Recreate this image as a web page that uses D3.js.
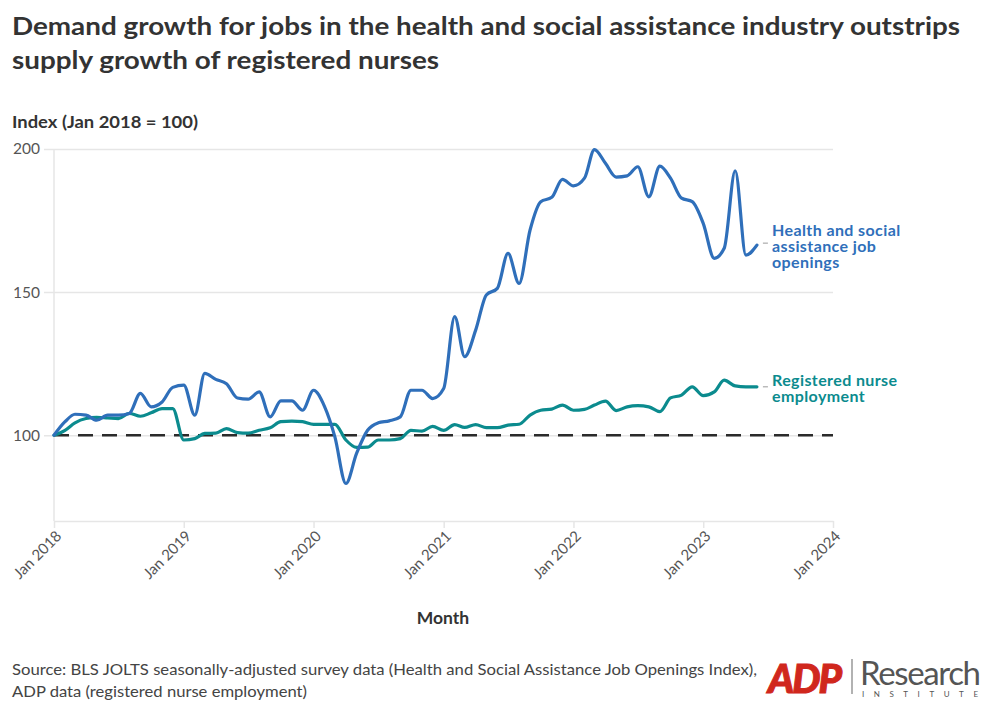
<!DOCTYPE html>
<html>
<head>
<meta charset="utf-8">
<script src="https://cdn.jsdelivr.net/npm/d3@7"></script>
<style>
  html, body { margin: 0; padding: 0; background: #fff; }
  svg { display: block; font-family: Lato, "Noto Sans", sans-serif; }
</style>
</head>
<body>
<svg id="chart" width="993" height="713"></svg>
<script>
// ---- Data (monthly, Jan 2018 .. Jun 2023) ----
const startMonth = "2018-01";
const jobOpenings = [
  100, 104.7, 107.3, 107, 105.2, 107, 107, 107.6, 114.6, 109.9, 111.6, 116.7,
  117.5, 107, 121.6, 119.5, 118, 113, 112.6, 115.1, 106.4, 112, 112, 108.7,
  115.7, 110, 99.4, 83.1, 93.6, 101.7, 104.3, 105, 106.4, 115.7, 115.7, 112.8,
  116.3, 141.4, 127.4, 136.7, 149, 151.3, 163.5, 153, 171.7, 181.6, 183.1, 189.4,
  187.1, 189.8, 199.8, 195, 190.2, 190.6, 193.8, 183.3, 194, 189.8, 182.8, 181.6,
  174, 161.8, 165.3, 192.4, 162.9, 166.4
];
const nurseEmployment = [
  100, 101.7, 104.3, 105.8, 106.2, 106, 105.8, 107.6, 106.6, 107.8, 109.3, 109.3,
  98.3, 98.8, 100.6, 100.7, 102.3, 100.9, 100.7, 101.7, 102.6, 104.7, 104.9, 104.7,
  103.8, 103.8, 103.8, 98.3, 95.7, 95.8, 98.3, 98.3, 98.8, 101.7, 101.4, 103.1,
  101.7, 103.7, 102.7, 103.7, 102.6, 102.6, 103.5, 103.8, 107, 108.7, 109.1, 110.5,
  108.7, 109, 110.5, 111.9, 108.6, 109.9, 110.3, 109.9, 108.2, 113, 114, 116.9,
  113.8, 115.1, 119.2, 117.2, 116.9, 116.9
];
const yTicks = [100, 150, 200];
const xTickYears = [2018, 2019, 2020, 2021, 2022, 2023, 2024];
const seriesLabelLines = [["Health and social", "assistance job", "openings"], ["Registered nurse", "employment"]];

const titleLines = [
  "Demand growth for jobs in the health and social assistance industry outstrips",
  "supply growth of registered nurses"
];
const yAxisTitle = "Index (Jan 2018 = 100)";
const xAxisTitle = "Month";
const sourceLines = [
  "Source: BLS JOLTS seasonally-adjusted survey data (Health and Social Assistance Job Openings Index),",
  "ADP data (registered nurse employment)"
];

// ---- Build ----
const parse = d3.utcParse("%Y-%m");
const t0 = parse(startMonth);
const dates = jobOpenings.map((_, i) => d3.utcMonth.offset(t0, i));
const blueData = dates.map((d, i) => ({ date: d, value: jobOpenings[i] }));
const tealData = dates.map((d, i) => ({ date: d, value: nurseEmployment[i] }));

const COLORS = { blue: "#2f6fba", teal: "#0b8b8e", text: "#333333", muted: "#555555", grid: "#e6e6e6" };

const svg = d3.select("#chart");
const x = d3.scaleUtc()
  .domain([new Date(Date.UTC(2018, 0, 1)), new Date(Date.UTC(2024, 0, 1))])
  .range([54, 833]);
const y = d3.scaleLinear().domain([70, 200]).range([521, 149]);

// Title
const titleWidths = [948, 427];
svg.append("g").selectAll("text").data(titleLines).join("text")
  .attr("x", 12).attr("y", (d, i) => 35 + i * 34)
  .attr("font-size", 25.5).attr("font-weight", 700).attr("fill", COLORS.text)
  .attr("textLength", (d, i) => titleWidths[i]).attr("lengthAdjust", "spacingAndGlyphs")
  .text(d => d);

svg.append("text").attr("x", 12).attr("y", 128)
  .attr("font-size", 17.5).attr("font-weight", 700).attr("fill", COLORS.text)
  .attr("textLength", 186).attr("lengthAdjust", "spacingAndGlyphs")
  .text(yAxisTitle);

// Gridlines + y labels
const yAxis = d3.axisLeft(y).tickValues(yTicks).tickSize(0).tickPadding(0);
const gy = svg.append("g").attr("transform", "translate(44,0)").call(yAxis);
gy.select(".domain").remove();
gy.selectAll(".tick text")
  .attr("x", -4).attr("font-size", 15.5).attr("fill", COLORS.muted)
  .attr("font-family", "Lato, sans-serif");
gy.selectAll(".tick line").remove();
gy.selectAll(".tick").append("line")
  .attr("x1", 0).attr("x2", 833 - 44).attr("stroke", COLORS.grid).attr("stroke-width", 1.5);

// vertical left axis line
svg.append("line").attr("x1", 54).attr("x2", 54).attr("y1", y(200)).attr("y2", y(70))
  .attr("stroke", COLORS.grid).attr("stroke-width", 1.5);

// x axis
const xAxis = d3.axisBottom(x)
  .tickValues(xTickYears.map(yr => new Date(Date.UTC(yr, 0, 1))))
  .tickFormat(d3.utcFormat("Jan %Y")).tickSize(7).tickSizeOuter(0);
const gx = svg.append("g").attr("transform", `translate(0,${y(70)})`).call(xAxis);
gx.select(".domain").attr("stroke", COLORS.grid).attr("stroke-width", 1.5);
gx.selectAll(".tick line").attr("stroke", COLORS.grid).attr("stroke-width", 1.5);
gx.selectAll(".tick text")
  .attr("font-size", 15).attr("fill", COLORS.muted).attr("font-family", "Lato, sans-serif")
  .attr("text-anchor", "end").attr("y", 0).attr("dy", 0)
  .attr("transform", "translate(8,16) rotate(-45)");

svg.append("text").attr("x", 443).attr("y", 624).attr("text-anchor", "middle")
  .attr("font-size", 17.5).attr("font-weight", 700).attr("fill", COLORS.text)
  .text(xAxisTitle);

// baseline dashed 100
svg.append("line").attr("x1", 54).attr("x2", 833).attr("y1", y(100)).attr("y2", y(100))
  .attr("stroke", "#2b2b2b").attr("stroke-width", 2.5).attr("stroke-dasharray", "15,9");

// lines
const line = d3.line().x(d => x(d.date)).y(d => y(d.value)).curve(d3.curveMonotoneX);
svg.append("path").datum(tealData).attr("d", line)
  .attr("fill", "none").attr("stroke", COLORS.teal).attr("stroke-width", 3.2)
  .attr("stroke-linejoin", "round").attr("stroke-linecap", "round");
svg.append("path").datum(blueData).attr("d", line)
  .attr("fill", "none").attr("stroke", COLORS.blue).attr("stroke-width", 3.2)
  .attr("stroke-linejoin", "round").attr("stroke-linecap", "round");

// series labels
const lastBlue = blueData[blueData.length - 1];
const lastTeal = tealData[tealData.length - 1];
const labels = [
  { lines: seriesLabelLines[0], color: COLORS.blue, yv: y(lastBlue.value) + 1, lead: y(lastBlue.value) - 2, x0: x(lastBlue.date) },
  { lines: seriesLabelLines[1], color: COLORS.teal, yv: y(lastTeal.value) + 2, lead: y(lastTeal.value), x0: x(lastTeal.date) }
];
labels.forEach(lb => {
  svg.append("line").attr("x1", lb.x0 + 6).attr("x2", lb.x0 + 11)
    .attr("y1", lb.lead).attr("y2", lb.lead).attr("stroke", "#aaa").attr("stroke-width", 1.2);
  const n = lb.lines.length;
  const lh = 16;
  const top = lb.yv - (n - 1) * lh / 2;
  svg.append("g").selectAll("text").data(lb.lines).join("text")
    .attr("x", 772).attr("y", (d, i) => top + i * lh).attr("dy", "0.35em")
    .attr("font-size", 16).attr("font-weight", 700).attr("fill", lb.color)
    .attr("letter-spacing", 0.4)
    .text(d => d);
});

// source
const sourceWidths = [745, 295];
svg.append("g").selectAll("text").data(sourceLines).join("text")
  .attr("x", 12).attr("y", (d, i) => 675 + i * 22)
  .attr("font-size", 16).attr("fill", "#444")
  .attr("textLength", (d, i) => sourceWidths[i]).attr("lengthAdjust", "spacingAndGlyphs")
  .text(d => d);

// logo
const logo = svg.append("g");
logo.append("text").attr("x", 768).attr("y", 693)
  .attr("font-size", 40).attr("font-weight", 900).attr("font-style", "italic")
  .attr("fill", "#d0271d").attr("stroke", "#d0271d").attr("stroke-width", 1)
  .attr("font-family", "Lato, sans-serif").attr("textLength", 74).text("ADP");
logo.append("line").attr("x1", 852).attr("x2", 852).attr("y1", 659).attr("y2", 694)
  .attr("stroke", "#999").attr("stroke-width", 1.5);
logo.append("text").attr("x", 860).attr("y", 685)
  .attr("font-size", 33).attr("fill", "#555").attr("font-family", "Lato, sans-serif")
  .attr("textLength", 121).text("Research");
logo.append("text").attr("x", 862).attr("y", 697)
  .attr("font-size", 8).attr("fill", "#555").attr("font-family", "Lato, sans-serif")
  .attr("textLength", 116).text("INSTITUTE");
</script>
</body>
</html>
